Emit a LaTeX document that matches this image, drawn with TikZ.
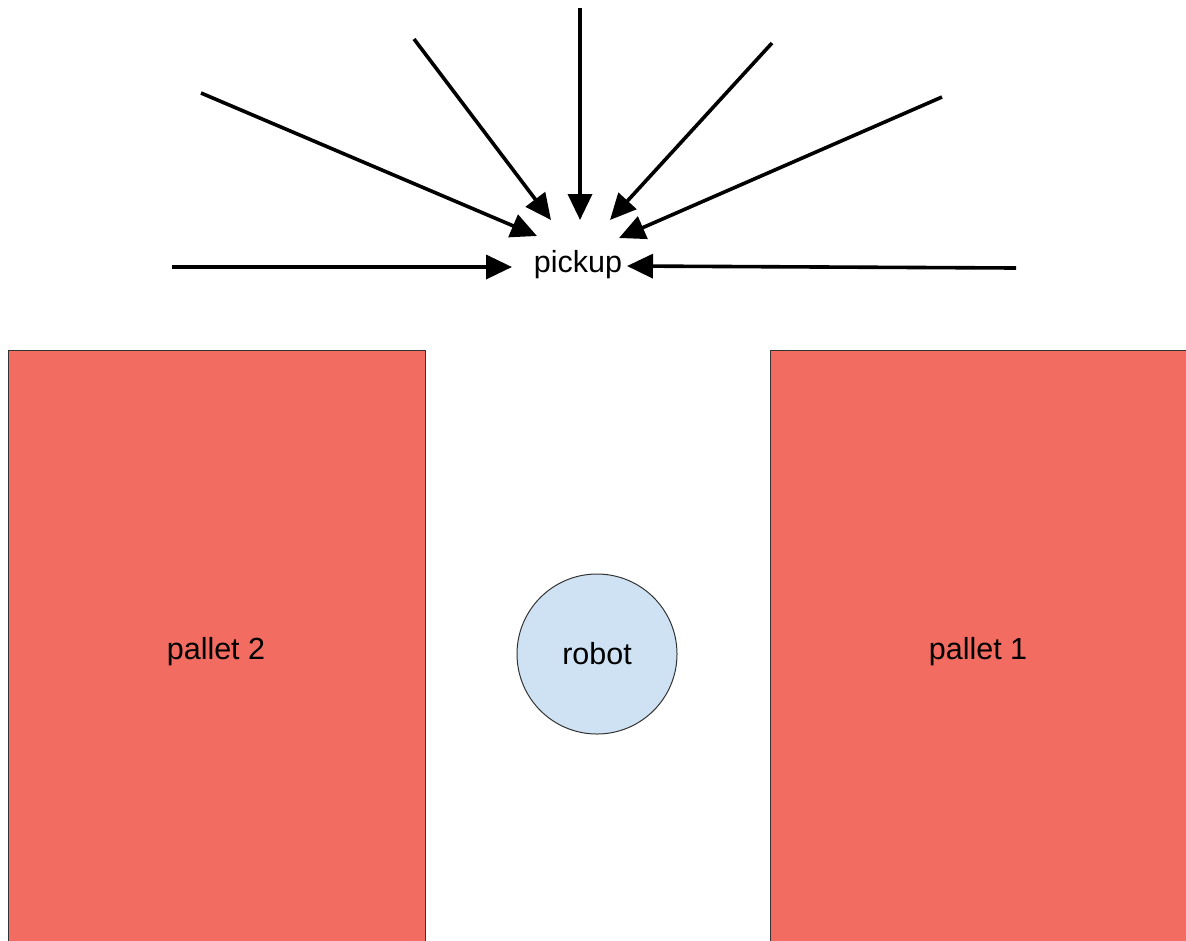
\documentclass[tikz,border=0pt]{standalone}
\usepackage{fontspec}
\setmainfont{Liberation Sans}
\usepackage{tikz}
\usetikzlibrary{arrows.meta}
\definecolor{palletred}{RGB}{242,108,97}
\definecolor{robotblue}{RGB}{207,226,243}

\begin{document}
\begin{tikzpicture}[
    x=0.5bp, y=-0.5bp,
    pallet/.style={draw=black!80, line width=0.5bp, fill=palletred},
    robot/.style={circle, draw=black!80, line width=0.5bp, fill=robotblue, minimum size=80bp, inner sep=0pt},
    label/.style={font=\fontsize{15.3}{18}\selectfont},
    arrow/.style={-{Triangle[length=13bp, width=12bp]}, line width=1.8bp, black}
]
    \useasboundingbox (0,0) rectangle (1186,940);

    % Pallets
    \draw[pallet] (8,350) rectangle (425,945);
    \draw[pallet] (770,350) rectangle (1192,945);
    \node[label] (pallet2) at (216,652) {pallet 2};
    \node[label] (pallet1) at (978,652) {pallet 1};

    % Robot
    \node[robot, label] (robot) at (597,654) {robot};

    % Pickup point
    \node[label] (pickup) at (578,265) {pickup};

    % Approach directions
    \coordinate (a1) at (172,267);  \coordinate (b1) at (512,267);
    \coordinate (a2) at (201,93);   \coordinate (b2) at (537,236);
    \coordinate (a3) at (414,39);   \coordinate (b3) at (551,220);
    \coordinate (a4) at (580,8);    \coordinate (b4) at (580,220);
    \coordinate (a5) at (772,43);   \coordinate (b5) at (610,220);
    \coordinate (a6) at (942,97);   \coordinate (b6) at (619,238);
    \coordinate (a7) at (1016,268); \coordinate (b7) at (627,266);
    \foreach \i in {1,...,7}
        \draw[arrow] (a\i) -- (b\i);
\end{tikzpicture}
\end{document}
